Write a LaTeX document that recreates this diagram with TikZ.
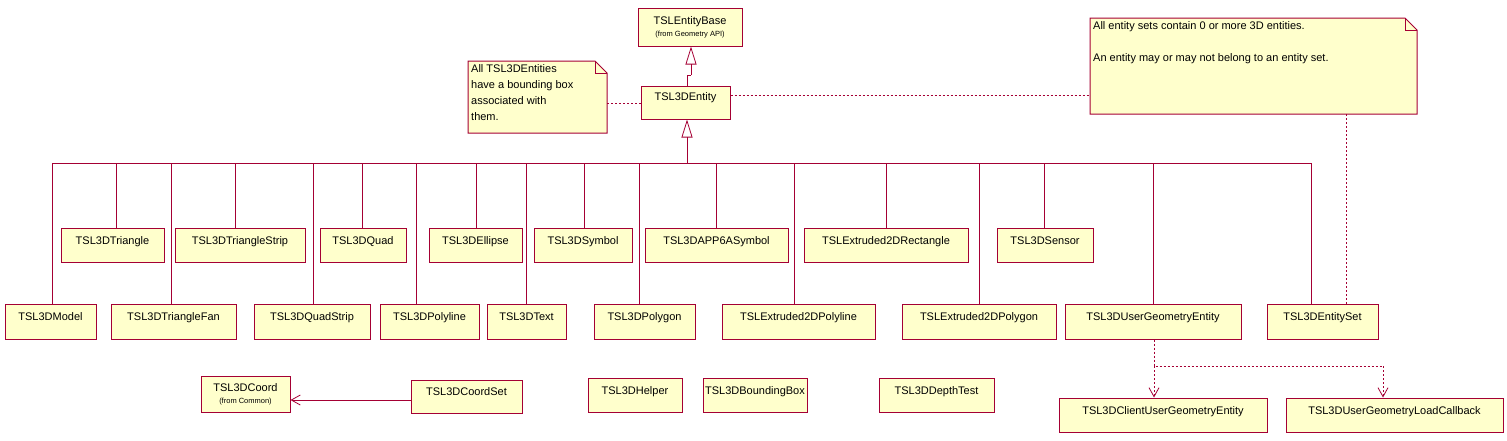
\documentclass[tikz,border=0pt]{standalone}
\usepackage{fontspec}
\setmainfont{Liberation Sans}
\usetikzlibrary{arrows.meta}
\definecolor{bd}{HTML}{A50034}
\definecolor{bg}{HTML}{FFFFCC}
\newcommand{\mkcls}[6]{\node[cls,minimum width={#4-#2},minimum height={#5-#3}] (#1) at ({(#2+#4)/2},{(#3+#5)/2}) {#6};}
\newcommand{\mknote}[6]{\filldraw[bd,fill=bg,line width=1pt] (#2,#3) -- ({#4-12},#3) -- (#4,{#3+12}) -- (#4,#5) -- (#2,#5) -- cycle;
\draw[bd,line width=0.8pt] ({#4-12},#3) -- ({#4-12},{#3+12}) -- (#4,{#3+12});
\node[anchor=north west,align=left,inner sep=0pt,font=\fontsize{11}{16}\selectfont] (#1) at ({#2+3},{#3+3}) {#6};
\coordinate (#1nw) at (#2,#3); \coordinate (#1se) at (#4,#5);}
\begin{document}
\begin{tikzpicture}[x=1pt,y=-1pt,
  cls/.style={draw=bd,fill=bg,line width=1pt,inner sep=0pt,font=\fontsize{11}{13}\selectfont,align=center},
  gen/.style={bd,line width=0.8pt},
  dep/.style={bd,line width=0.8pt,dash pattern=on 2pt off 2pt},
  tri/.style={-{Triangle[open,length=18pt,width=11pt]}},
  va/.style={-{Straight Barb[length=9pt,width=10pt]}}]
\useasboundingbox (0,0) rectangle (1507,440);
\mkcls{base}{638}{8}{742}{46}{TSLEntityBase\\[-1pt]{\fontsize{7.5}{8}\selectfont(from Geometry API)}}
\mkcls{ent}{641}{86}{730}{119}{TSL3DEntity\\[-2pt]}
\mknote{n1}{468}{61}{607}{133}{All TSL3DEntities\\have a bounding box\\associated with\\them.}
\mknote{n2}{1090}{18}{1417}{114}{All entity sets contain 0 or more 3D entities.\\[16pt]An entity may or may not belong to an entity set.}
\newcommand{\up}{\\[-4pt]}
\mkcls{tri}{61}{228}{164}{262}{TSL3DTriangle\up}
\mkcls{tstrip}{175}{228}{305}{262}{TSL3DTriangleStrip\up}
\mkcls{quad}{320}{228}{406}{262}{TSL3DQuad\up}
\mkcls{ell}{429}{228}{522}{262}{TSL3DEllipse\up}
\mkcls{sym}{534}{228}{632}{262}{TSL3DSymbol\up}
\mkcls{app}{645}{228}{788}{262}{TSL3DAPP6ASymbol\up}
\mkcls{erect}{804}{228}{968}{262}{TSLExtruded2DRectangle\up}
\mkcls{sens}{997}{228}{1093}{262}{TSL3DSensor\up}
\mkcls{model}{5}{304}{96}{339}{TSL3DModel\up}
\mkcls{tfan}{111}{304}{236}{339}{TSL3DTriangleFan\up}
\mkcls{qstrip}{254}{304}{370}{339}{TSL3DQuadStrip\up}
\mkcls{poly}{380}{304}{479}{339}{TSL3DPolyline\up}
\mkcls{text}{487}{304}{566}{339}{TSL3DText\up}
\mkcls{pgon}{594}{304}{695}{339}{TSL3DPolygon\up}
\mkcls{epl}{722}{304}{875}{339}{TSLExtruded2DPolyline\up}
\mkcls{epg}{902}{304}{1056}{339}{TSLExtruded2DPolygon\up}
\mkcls{uge}{1065}{304}{1241}{339}{TSL3DUserGeometryEntity\up}
\mkcls{eset}{1267}{304}{1378}{339}{TSL3DEntitySet\up}
\mkcls{coord}{201}{376}{290}{412}{TSL3DCoord\\[-1pt]{\fontsize{7.5}{8}\selectfont(from Common)}}
\mkcls{cset}{411}{380}{522}{413}{TSL3DCoordSet\up}
\mkcls{help}{588}{378}{682}{412}{TSL3DHelper\up}
\mkcls{bbox}{703}{378}{807}{412}{TSL3DBoundingBox\up}
\mkcls{depth}{879}{378}{994}{412}{TSL3DDepthTest\up}
\mkcls{cuge}{1059}{398}{1267}{432}{TSL3DClientUserGeometryEntity\up}
\mkcls{lcb}{1286}{398}{1503}{432}{TSL3DUserGeometryLoadCallback\up}
% generalization to base
\coordinate (j1) at (687,75); \coordinate (j2) at (691,75);
\draw[gen] (ent.north -| j1) -- (j1) -- (j2);
\draw[gen,tri] (j2) -- (base.south -| j2);
% hierarchy
\coordinate (bar) at (687,163);
\draw[gen,tri] (bar) -- (ent.south -| bar);
\coordinate (barL) at (52,163); \coordinate (barR) at (1311,163);
\draw[gen] (barL) -- (barR);
\foreach \n/\x in {tri/116,tstrip/235,quad/362,ell/476,sym/584,app/716,erect/886,sens/1044,
  model/52,tfan/171,qstrip/313,poly/416,text/526,pgon/639,epl/794,epg/979,uge/1153,eset/1311}
  {\draw[gen] (\x,163) -- (\n.north -| {(\x,0)});}
% notes
\draw[dep] (n1se |- 0,103) -- (ent.west |- 0,103);
\draw[dep] (ent.east |- 0,95) -- (n2nw |- 0,95);
\draw[dep] (1346,114) -- (eset.north -| {(1346,0)});
% coord
\draw[gen,va] (cset.west |- 0,400) -- (coord.east |- 0,400);
% dependencies
\coordinate (d1) at (1154,366); \coordinate (d2) at (1383,366);
\draw[dep] (uge.south -| d1) -- (d1) -- (d2);
\draw[dep,va] (d1) -- (cuge.north -| d1);
\draw[dep,va] (d2) -- (lcb.north -| d2);
\end{tikzpicture}
\end{document}
